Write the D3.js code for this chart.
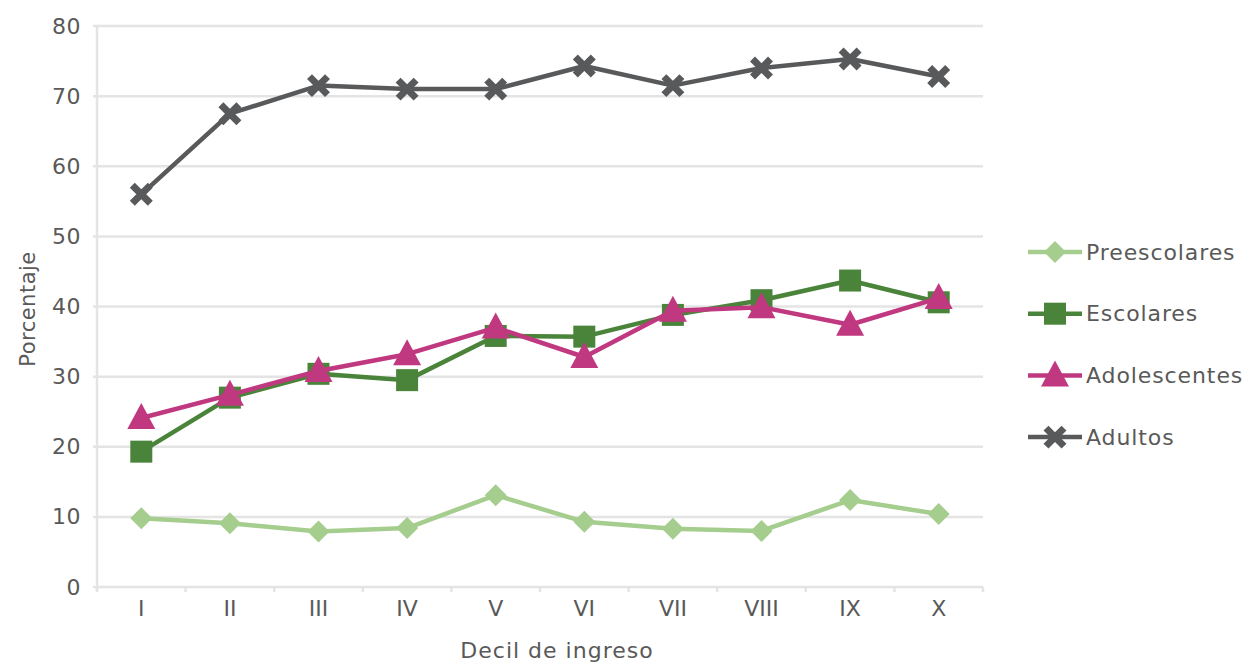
<!DOCTYPE html>
<html>
<head>
<meta charset="utf-8">
<script src="https://cdn.jsdelivr.net/npm/d3@7"></script>
<style>
  body { margin: 0; background: #fff; }
  text { font-family: "DejaVu Sans", sans-serif; fill: #595959; }
</style>
</head>
<body>
<div id="chart"></div>
<script>
var deciles = ["I", "II", "III", "IV", "V", "VI", "VII", "VIII", "IX", "X"];
var yTicks = [0, 10, 20, 30, 40, 50, 60, 70, 80];

var preescolares = [9.8, 9.1, 7.9, 8.4, 13.1, 9.3, 8.3, 8.0, 12.4, 10.4];
var escolares = [19.3, 27.0, 30.4, 29.5, 35.8, 35.7, 38.8, 40.9, 43.7, 40.6];
var adolescentes = [24.1, 27.4, 30.8, 33.2, 37.0, 32.8, 39.4, 39.9, 37.4, 41.2];
var adultos = [56.0, 67.5, 71.5, 71.0, 71.0, 74.3, 71.5, 74.0, 75.3, 72.8];

var series = [
  {name: "Preescolares", values: preescolares, color: "#a5cd8e", marker: "diamond"},
  {name: "Escolares", values: escolares, color: "#4a843a", marker: "square"},
  {name: "Adolescentes", values: adolescentes, color: "#c0387f", marker: "triangle"},
  {name: "Adultos", values: adultos, color: "#58595b", marker: "cross"}
];

var width = 1252, height = 664;
var margin = {left: 97, right: 269, top: 26, bottom: 77};

var svg = d3.select("#chart").append("svg")
    .attr("width", width)
    .attr("height", height);

var x = d3.scaleBand()
    .domain(deciles)
    .range([margin.left, width - margin.right]);

var y = d3.scaleLinear()
    .domain([0, 80])
    .range([height - margin.bottom, margin.top]);

// gridlines
svg.append("g")
  .selectAll("line")
  .data(yTicks)
  .enter().append("line")
    .attr("x1", margin.left - 4)
    .attr("x2", width - margin.right)
    .attr("y1", function(d) { return y(d); })
    .attr("y2", function(d) { return y(d); })
    .attr("stroke", "#e4e4e4")
    .attr("stroke-width", 2.5);

// y axis line
svg.append("line")
    .attr("x1", margin.left).attr("x2", margin.left)
    .attr("y1", y(80)).attr("y2", y(0) + 4)
    .attr("stroke", "#e4e4e4").attr("stroke-width", 2.5);

// x ticks at band boundaries
var bounds = deciles.map(function(d) { return x(d); }).concat([x(deciles[9]) + x.bandwidth()]);
svg.append("g")
  .selectAll("line")
  .data(bounds)
  .enter().append("line")
    .attr("x1", function(d) { return d; })
    .attr("x2", function(d) { return d; })
    .attr("y1", y(0))
    .attr("y2", y(0) + 5)
    .attr("stroke", "#e4e4e4").attr("stroke-width", 2.5);

var yAxis = d3.axisLeft(y).tickValues(yTicks).tickSize(0).tickPadding(16);
svg.append("g")
    .attr("transform", "translate(" + margin.left + ",0)")
    .call(yAxis)
    .call(function(g) { g.select(".domain").remove(); })
    .selectAll("text")
    .style("font-size", "22px")
    .style("letter-spacing", "0.5px")
    .attr("fill", "#595959");

var xAxis = d3.axisBottom(x).tickSize(0).tickPadding(13);
svg.append("g")
    .attr("transform", "translate(0," + y(0) + ")")
    .call(xAxis)
    .call(function(g) { g.select(".domain").remove(); })
    .selectAll("text")
    .style("font-size", "22px")
    .attr("fill", "#595959");

svg.append("text")
    .attr("transform", "translate(35," + 309 + ") rotate(-90)")
    .attr("text-anchor", "middle")
    .style("font-size", "21px")
    .style("letter-spacing", "0.5px")
    .text("Porcentaje");

svg.append("text")
    .attr("x", 557)
    .attr("y", 658)
    .attr("text-anchor", "middle")
    .style("font-size", "22px")
    .style("letter-spacing", "1px")
    .text("Decil de ingreso");

function markerPath(type) {
  if (type === "diamond") return "M0,-11L11,0L0,11L-11,0Z";
  if (type === "square") return "M-11,-11H11V11H-11Z";
  if (type === "triangle") return "M0,-15L14,11H-14Z";
  return "M-9,-9L9,9M9,-9L-9,9";
}

function drawMarker(g, s) {
  var p = g.append("path").attr("d", markerPath(s.marker));
  if (s.marker === "cross") {
    p.attr("fill", "none").attr("stroke", s.color).attr("stroke-width", 7);
  } else {
    p.attr("fill", s.color);
  }
}

var line = d3.line()
    .x(function(d, i) { return x(deciles[i]) + x.bandwidth() / 2; })
    .y(function(d) { return y(d); });

series.forEach(function(s) {
  var g = svg.append("g");
  g.append("path")
      .datum(s.values)
      .attr("d", line)
      .attr("fill", "none")
      .attr("stroke", s.color)
      .attr("stroke-width", 4.5)
      .attr("stroke-linejoin", "round");
  s.values.forEach(function(v, i) {
    var m = g.append("g")
        .attr("transform", "translate(" + (x(deciles[i]) + x.bandwidth() / 2) + "," + y(v) + ")");
    drawMarker(m, s);
  });
});

// legend
var legend = svg.append("g").attr("transform", "translate(1028,252)");
series.forEach(function(s, i) {
  var row = legend.append("g").attr("transform", "translate(0," + (i * 61.7) + ")");
  row.append("line")
      .attr("x1", 0).attr("x2", 54)
      .attr("stroke", s.color).attr("stroke-width", 4.5);
  var m = row.append("g").attr("transform", "translate(27,0)");
  drawMarker(m, s);
  row.append("text")
      .attr("x", 58)
      .attr("dy", "0.35em")
      .style("font-size", "22px")
      .style("letter-spacing", "0.9px")
      .text(s.name);
});
</script>
</body>
</html>
